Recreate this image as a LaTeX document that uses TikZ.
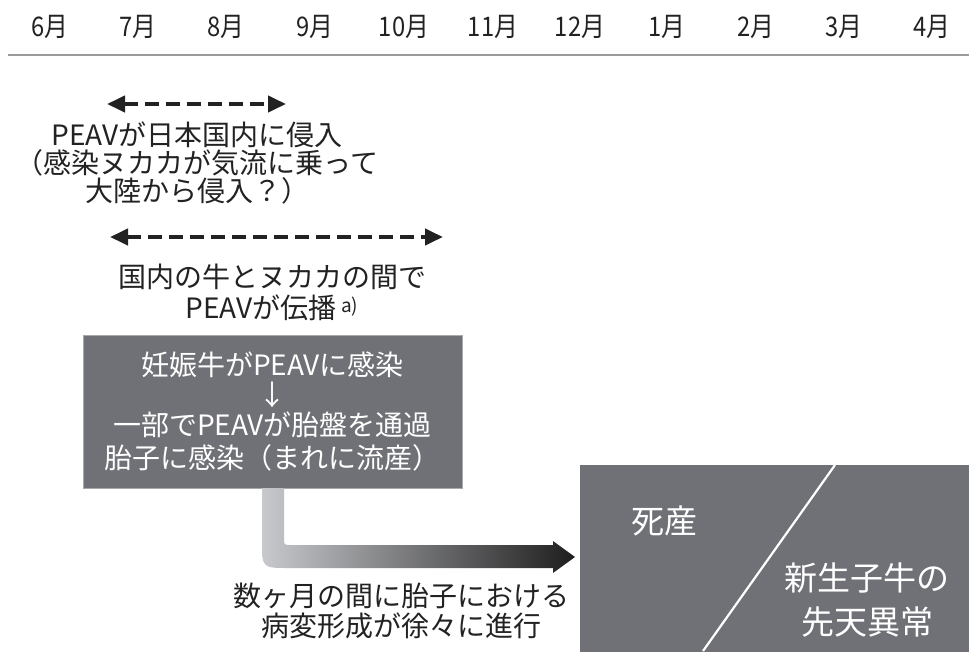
\documentclass[tikz,border=0pt]{standalone}
\usepackage{fontspec}
\setmainfont{Noto Sans CJK JP}
\usetikzlibrary{arrows.meta}
\definecolor{boxgray}{HTML}{707176}
\definecolor{boxedge}{HTML}{A8A9AC}
\definecolor{ink}{HTML}{222222}
\definecolor{rulegray}{HTML}{9A9A9A}
\definecolor{arrlight}{HTML}{C8C9CD}
\definecolor{arrdark}{HTML}{1E1E1E}
\newcommand{\mymon}[1]{\scalebox{0.88}[1]{#1}}
\tikzset{
  mon/.style={font=\fontsize{27}{28}\selectfont, text=ink, inner sep=0pt},
  txt/.style={font=\fontsize{28}{28}\selectfont, text=ink, align=center, inner sep=0pt},
  boxtxt/.style={font=\fontsize{28}{30}\selectfont, text=white, align=center, inner sep=0pt},
  bigtxt/.style={font=\fontsize{33}{44}\selectfont, text=white, align=center, inner sep=0pt},
  dasharrow/.style={draw=ink, line width=4pt, dash pattern=on 14pt off 7pt,
    {Triangle[length=18pt,width=16pt]}-{Triangle[length=18pt,width=16pt]}},
  graybox/.style={fill=boxgray, draw=boxedge, line width=1pt, inner sep=0pt},
}
\begin{document}
\begin{tikzpicture}[x=1pt,y=-1pt]
\useasboundingbox (0,0) rectangle (969,651);

% month header
\node[mon] (m6)  at (50,27)  {\mymon{6月}};
\node[mon] (m7)  at (138,27) {\mymon{7月}};
\node[mon] (m8)  at (226,27) {\mymon{8月}};
\node[mon] (m9)  at (315,27) {\mymon{9月}};
\node[mon] (m10) at (404,27) {\mymon{10月}};
\node[mon] (m11) at (493,27) {\mymon{11月}};
\node[mon] (m12) at (580,27) {\mymon{12月}};
\node[mon] (m1)  at (667,27) {\mymon{1月}};
\node[mon] (m2)  at (756,27) {\mymon{2月}};
\node[mon] (m3)  at (844,27) {\mymon{3月}};
\node[mon] (m4)  at (932,27) {\mymon{4月}};
\coordinate (rl) at (8,55);
\coordinate (rr) at (969,55);
\draw[rulegray, line width=2pt] (rl) -- (rr);

% first dashed arrow and text
\coordinate (a1l) at (107,104);
\coordinate (a1r) at (286,104);
\draw[dasharrow] (a1l) -- (a1r);
\node[txt] (t1) at (197,163) {PEAVが日本国内に侵入\\（感染ヌカカが気流に乗って\\大陸から侵入？）};

% second dashed arrow and text
\coordinate (a2l) at (110,237);
\coordinate (a2r) at (443,237);
\draw[dasharrow] (a2l) -- (a2r);
\node[txt, font=\fontsize{28}{31}\selectfont] (t2) at (272,292) {国内の牛とヌカカの間で\\PEAVが伝播\,{\fontsize{19}{19}\selectfont\raisebox{6pt}{a)}}};

% infection box
\node[graybox, minimum width=379pt, minimum height=153pt] (box) at (272.5,411.5) {};
\node[boxtxt] (bt) at (box.center) {妊娠牛がPEAVに感染\\↓\\一部でPEAVが胎盤を通過\\[3pt]胎子に感染（まれに流産）};

% result box
\node[fill=boxgray, inner sep=0pt, minimum width=389pt, minimum height=187pt, anchor=north west] (res) at (580,465) {};
\coordinate (dtop) at (835,465);
\coordinate (dbot) at (703,651);
\draw[white, line width=2.2pt] (dtop) -- (dbot);
\node[bigtxt] (still) at (664,521) {死産};
\node[bigtxt] (cong) at (867,600) {新生子牛の\\先天異常};

% gradient elbow arrow from box to result box
\shade[left color=arrlight, right color=arrdark]
  (262,488) -- (262,541) .. controls (262,568) .. (289,568)
  -- (553,568) -- (553,573) -- (575,557) -- (553,541) -- (553,545)
  -- (291,545) .. controls (284,545) .. (284,538) -- (284,488) -- cycle;

\node[txt, font=\fontsize{28}{30}\selectfont] (t3) at (401,611) {数ヶ月の間に胎子における\\病変形成が徐々に進行};
\end{tikzpicture}
\end{document}
